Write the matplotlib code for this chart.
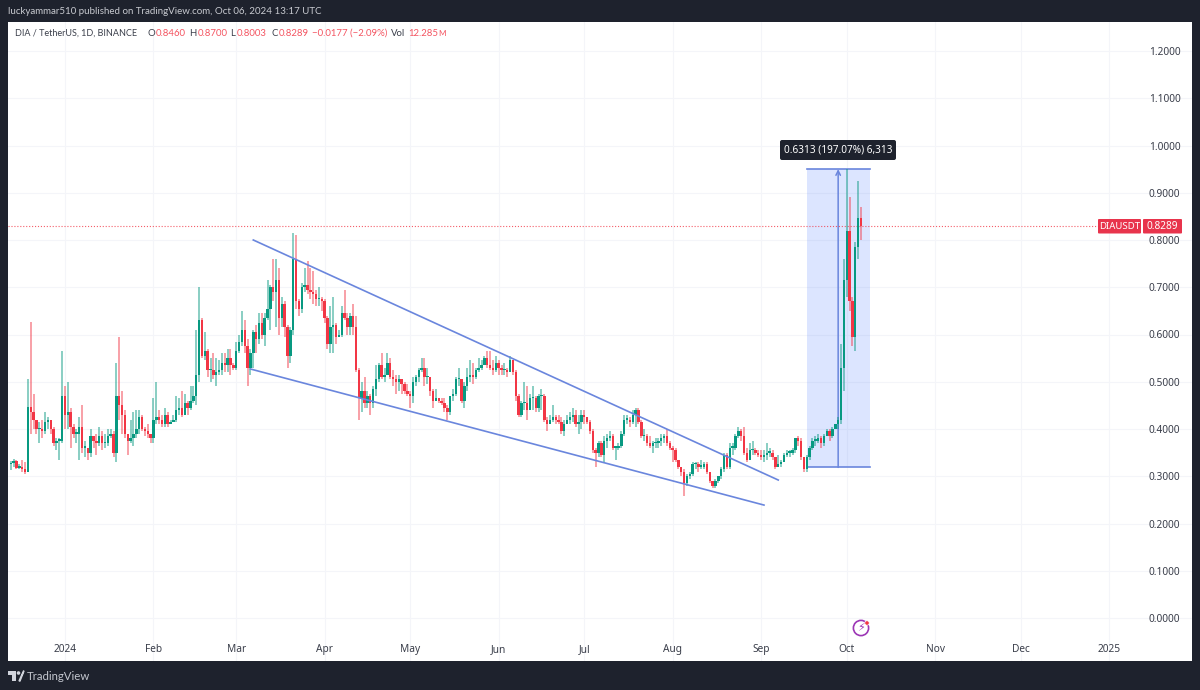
import numpy as np
import pandas as pd
import matplotlib
matplotlib.use('Agg')
import matplotlib.pyplot as plt
import matplotlib.dates as mdates
from matplotlib.patches import Circle, FancyBboxPatch, Polygon, Rectangle

plt.rcParams['font.family'] = ['Noto Sans', 'DejaVu Sans']

# Daily candles, last one is 2024-10-06
closes = [
    .327, .333, .318, .32, .315, .31, .447, .435, .42, .40,
    .40, .395, .415, .42, .40, .37, .375, .375, .47, .43,
    .435, .405, .39, .39, .405, .36, .36, .35, .385, .375,
    .37, .385, .37, .37, .385, .39, .35, .47, .45, .43,
    .39, .375, .38, .39, .40, .425, .40, .395, .39, .38,
    .42, .425, .42, .41, .43, .41, .415, .42, .44, .445,
    .43, .455, .445, .46, .47, .515, .63, .555, .565, .525,
    .525, .515, .52, .525, .54, .535, .55, .535, .53, .565,
    .585, .61, .575, .53, .56, .605, .59, .625, .60, .635,
    .655, .70, .69, .715, .635, .665, .615, .555, .61, .76,
    .67, .655, .70, .705, .695, .69, .685, .675, .675, .67,
    .635, .58, .615, .62, .595, .60, .645, .635, .615, .64,
    .615, .525, .465, .48, .455, .47, .455, .485, .505, .535,
    .51, .515, .54, .51, .505, .50, .505, .495, .48, .475,
    .47, .50, .51, .525, .53, .51, .51, .48, .46, .465,
    .46, .455, .445, .435, .47, .475, .505, .505, .46, .49,
    .51, .515, .51, .525, .53, .535, .55, .535, .53, .525,
    .54, .53, .525, .525, .52, .545, .52, .47, .43, .455,
    .455, .44, .465, .465, .445, .47, .47, .42, .41, .42,
    .425, .42, .415, .395, .41, .42, .425, .43, .41, .415,
    .43, .425, .415, .395, .355, .35, .37, .345, .375, .38,
    .385, .36, .36, .365, .39, .42, .42, .415, .43, .44,
    .415, .385, .385, .37, .365, .37, .37, .375, .38, .385,
    .37, .36, .355, .335, .32, .31, .285, .30, .305, .325,
    .325, .32, .32, .325, .31, .29, .28, .29, .30, .315,
    .345, .32, .36, .36, .385, .395, .385, .35, .335, .355,
    .355, .35, .345, .34, .345, .35, .35, .34, .32, .325,
    .33, .345, .35, .35, .355, .38, .375, .34, .315, .34,
    .36, .375, .375, .38, .37, .385, .395, .385, .40, .41,
    .42, .53, .715, .82, .67, .595, .785, .846, .8289,
]
highs = [
    .333, .337, .335, .325, .335, .33, .505, .627, .475, .42,
    .415, .42, .435, .425, .42, .405, .38, .38, .565, .49,
    .50, .445, .41, .40, .425, .45, .375, .36, .40, .385,
    .39, .405, .395, .39, .40, .40, .395, .54, .595, .48,
    .44, .39, .42, .435, .44, .44, .43, .405, .41, .39,
    .465, .50, .44, .43, .445, .435, .42, .43, .47, .465,
    .48, .475, .46, .49, .49, .61, .70, .635, .605, .57,
    .55, .56, .55, .545, .56, .56, .57, .57, .54, .585,
    .60, .65, .63, .59, .57, .61, .62, .645, .645, .645,
    .715, .705, .76, .76, .74, .68, .67, .62, .615, .815,
    .81, .675, .71, .74, .755, .74, .735, .695, .70, .68,
    .675, .64, .66, .68, .625, .61, .66, .695, .645, .645,
    .665, .64, .53, .50, .51, .48, .475, .49, .535, .54,
    .56, .53, .56, .55, .525, .515, .515, .505, .50, .495,
    .48, .51, .515, .53, .55, .55, .53, .51, .485, .485,
    .465, .465, .465, .45, .47, .485, .51, .53, .505, .50,
    .53, .545, .54, .53, .55, .545, .555, .565, .565, .545,
    .555, .545, .535, .54, .53, .555, .54, .525, .475, .46,
    .50, .49, .475, .49, .47, .475, .485, .475, .425, .43,
    .45, .43, .43, .425, .42, .43, .435, .445, .44, .43,
    .44, .44, .425, .42, .40, .36, .375, .375, .385, .39,
    .395, .39, .365, .37, .395, .43, .43, .425, .44, .445,
    .445, .42, .40, .39, .385, .375, .38, .38, .39, .39,
    .40, .375, .365, .36, .335, .32, .315, .305, .31, .33,
    .33, .33, .335, .33, .33, .31, .29, .295, .30, .32,
    .35, .35, .37, .37, .39, .405, .40, .405, .36, .37,
    .375, .36, .355, .355, .355, .37, .36, .355, .34, .345,
    .335, .35, .355, .355, .36, .38, .385, .38, .34, .345,
    .365, .38, .385, .39, .385, .39, .40, .40, .405, .41,
    .425, .58, .76, .95, .89, .68, .795, .925, .87,
]
lows = [
    .313, .32, .315, .315, .31, .305, .31, .39, .40, .39,
    .37, .38, .39, .40, .39, .365, .355, .335, .37, .40,
    .40, .36, .38, .37, .335, .35, .34, .335, .34, .36,
    .345, .365, .355, .36, .365, .38, .34, .33, .42, .39,
    .38, .345, .37, .365, .38, .39, .395, .385, .38, .37,
    .37, .41, .41, .405, .405, .405, .41, .415, .415, .43,
    .425, .43, .43, .44, .455, .45, .50, .55, .545, .51,
    .50, .505, .49, .515, .515, .52, .52, .515, .525, .525,
    .56, .575, .56, .49, .515, .53, .56, .58, .59, .575,
    .63, .61, .67, .615, .60, .615, .595, .53, .54, .60,
    .655, .64, .645, .69, .685, .675, .665, .66, .66, .65,
    .625, .57, .56, .56, .58, .595, .595, .63, .60, .60,
    .60, .52, .42, .435, .445, .445, .43, .445, .47, .50,
    .505, .50, .515, .505, .49, .475, .48, .475, .475, .47,
    .445, .455, .49, .50, .52, .49, .495, .47, .445, .46,
    .455, .45, .435, .42, .43, .46, .47, .49, .455, .445,
    .48, .50, .495, .505, .52, .525, .535, .53, .525, .515,
    .52, .515, .515, .515, .51, .52, .515, .46, .425, .425,
    .44, .42, .44, .44, .435, .435, .44, .415, .395, .41,
    .415, .41, .41, .39, .385, .41, .41, .415, .405, .39,
    .40, .41, .41, .39, .35, .32, .34, .34, .33, .36,
    .375, .355, .335, .355, .36, .385, .41, .405, .41, .405,
    .41, .38, .375, .365, .36, .35, .36, .36, .365, .37,
    .365, .355, .33, .33, .315, .30, .258, .28, .295, .30,
    .315, .31, .315, .315, .305, .285, .275, .275, .285, .295,
    .31, .315, .315, .345, .355, .38, .375, .345, .33, .335,
    .345, .345, .34, .335, .33, .335, .34, .335, .315, .32,
    .32, .33, .34, .34, .345, .35, .365, .335, .31, .31,
    .335, .355, .365, .37, .36, .365, .385, .375, .38, .40,
    .40, .41, .48, .68, .65, .575, .565, .76, .80,
]
first_open = .325

month_dates = ['2024-01-01', '2024-02-01', '2024-03-01', '2024-04-01', '2024-05-01', '2024-06-01',
               '2024-07-01', '2024-08-01', '2024-09-01', '2024-10-01', '2024-11-01', '2024-12-01', '2025-01-01']
month_labels = ['2024', 'Feb', 'Mar', 'Apr', 'May', 'Jun', 'Jul', 'Aug', 'Sep', 'Oct', 'Nov', 'Dec', '2025']
price_ticks = [0.0, 0.1, 0.2, 0.3, 0.4, 0.5, 0.6, 0.7, 0.8, 0.9, 1.0, 1.1, 1.2]

# Trend lines and the price range tool
upper_line_dates = ['2024-03-07', '2024-09-07']
upper_line_prices = [.80, .292]
lower_line_dates = ['2024-03-06', '2024-09-02']
lower_line_prices = [.527, .239]
measure_dates = ['2024-09-17', '2024-10-09']
measure_arrow_date = '2024-09-28'
measure_prices = [.3187, .95]
last_price = .8289

GREEN = '#089981'
RED = '#f23645'
BLUE = '#6a86dd'
DARK = '#1e222d'
TEXT = '#3a3e4a'

x = mdates.date2num(pd.date_range(end='2024-10-06', periods=len(closes)))
closes = np.array(closes)
highs = np.array(highs)
lows = np.array(lows)
opens = np.r_[first_open, closes[:-1]]
colors = np.where(closes >= opens, GREEN, RED)

def d2n(s):
    return mdates.date2num(pd.Timestamp(s))

fig = plt.figure(figsize=(12, 6.9), dpi=100, facecolor=DARK)

# White chart area is 8..1192 by 22..661 pixels
ax = fig.add_axes([8 / 1200, 1 - 661 / 690, 1184 / 1200, 639 / 690], facecolor='white')
jan1 = d2n('2024-01-01')
ax.set_xlim(jan1 + (8 - 65) / 2.853, jan1 + (1192 - 65) / 2.853)
ax.set_ylim((618 - 661) / 472.5, (618 - 22) / 472.5)

ax.set_xticks([d2n(m) for m in month_dates])
ax.set_xticklabels(month_labels, fontsize=7.3, color=TEXT)
for lab in ax.get_xticklabels():
    if lab.get_text() in ('2024', '2025'):
        lab.set_fontweight('medium')
ax.set_yticks(price_ticks)
ax.set_yticklabels(['%.4f' % p for p in price_ticks], fontsize=7.3, color=TEXT)
ax.yaxis.tick_right()
ax.tick_params(axis='x', length=0, pad=-12)
ax.tick_params(axis='y', length=0, pad=-31)
ax.grid(color='#f4f5f9', lw=0.8)
ax.set_axisbelow(True)
for spine in ax.spines.values():
    spine.set_visible(False)

# Price range tool goes under the candles
ax.add_patch(Rectangle((d2n(measure_dates[0]), measure_prices[0]),
                       d2n(measure_dates[1]) - d2n(measure_dates[0]),
                       measure_prices[1] - measure_prices[0],
                       facecolor='#2962ff', alpha=0.16, edgecolor='none', zorder=1))
ax.plot([d2n(d) for d in measure_dates], [measure_prices[0]] * 2, color=BLUE, lw=1.2, zorder=2)
ax.plot([d2n(d) for d in measure_dates], [measure_prices[1]] * 2, color=BLUE, lw=1.2, zorder=2)
ax.annotate('', xy=(d2n(measure_arrow_date), measure_prices[1]),
            xytext=(d2n(measure_arrow_date), measure_prices[0]),
            arrowprops=dict(arrowstyle='->', color=BLUE, lw=1.1, shrinkA=0, shrinkB=0, mutation_scale=8), zorder=2)

ax.axhline(last_price, xmax=0.93, color=RED, ls=':', lw=0.8, alpha=0.8, zorder=2)

ax.vlines(x, lows, highs, colors=colors, lw=1.1, alpha=0.6, zorder=3)
ax.bar(x, np.maximum(np.abs(closes - opens), 0.003), bottom=np.minimum(opens, closes),
       width=0.85, color=colors, zorder=4)

ax.plot([d2n(d) for d in upper_line_dates], upper_line_prices, color=BLUE, lw=1.2, zorder=5)
ax.plot([d2n(d) for d in lower_line_dates], lower_line_prices, color=BLUE, lw=1.2, zorder=5)

# Everything else is placed in picture pixels on an overlay
top = fig.add_axes([0, 0, 1, 1], facecolor='none')
top.set_xlim(0, 1200)
top.set_ylim(690, 0)
top.axis('off')

top.text(8, 12, 'luckyammar510 published on TradingView.com, Oct 06, 2024 13:17 UTC',
         color='#c8cad0', fontsize=7.0, va='center', family='Lato')

top.text(15, 33, 'DIA / TetherUS, 1D, BINANCE', color=TEXT, fontsize=6.5, va='center', family='Lato')
header_parts = [(147, 'O', TEXT), (156, '0.8460', RED), (189, 'H', TEXT), (198, '0.8700', RED),
                (230, 'L', TEXT), (237, '0.8003', RED), (271, 'C', TEXT), (279, '0.8289', RED),
                (312, '\u22120.0177 (\u22122.09%)', RED), (391, 'Vol', TEXT), (408, '12.285', RED), (438, 'M', RED)]
for px, s, c in header_parts:
    top.text(px, 33, s, color=c, fontsize=6.9 if s != 'M' else 5.8, va='center', family='Lato',
             alpha=0.85 if c == RED else 1)

# Range label
top.add_patch(FancyBboxPatch((782, 142), 112, 16, boxstyle='round,pad=2', facecolor=DARK, edgecolor='none'))
top.text(838, 150, '0.6313 (197.07%) 6,313', color='white', fontsize=7.2, fontweight='medium',
         ha='center', va='center')

# Last price tags
top.add_patch(FancyBboxPatch((1099, 220), 41, 12.5, boxstyle='round,pad=1', facecolor='#e8344c', edgecolor='none'))
top.add_patch(FancyBboxPatch((1144, 220), 37, 12.5, boxstyle='round,pad=1', facecolor='#e8344c', edgecolor='none'))
top.text(1119.5, 226.5, 'DIAUSDT', color='white', fontsize=6.9, ha='center', va='center')
top.text(1162.5, 226.5, '0.8289', color='white', fontsize=7.3, ha='center', va='center')

# Earnings style icon near October
top.add_patch(Circle((861, 628), 7.6, facecolor='white', edgecolor='#9c36b5', lw=1.2))
top.text(861, 628, '\u26a1', color='#9c36b5', fontsize=8, ha='center', va='center', family='DejaVu Sans')
top.add_patch(Circle((867, 623), 2.2, facecolor=RED, edgecolor='white', lw=0.5))

# TradingView logo and name in the footer
top.add_patch(Polygon([(8, 671), (16, 671), (16, 681), (12, 681), (12, 675), (8, 675)], facecolor='#d1d4dc'))
top.add_patch(Circle((18.5, 673), 1.8, facecolor='#d1d4dc', edgecolor='none'))
top.add_patch(Polygon([(20, 681), (24, 671), (23.5, 671), (19, 681)], facecolor='#d1d4dc', edgecolor='#d1d4dc', lw=1))
top.text(27, 676, 'TradingView', color='#c4c7cf', fontsize=8.2, va='center', family='Lato')

fig.savefig('out.png', dpi=100, facecolor=fig.get_facecolor())
